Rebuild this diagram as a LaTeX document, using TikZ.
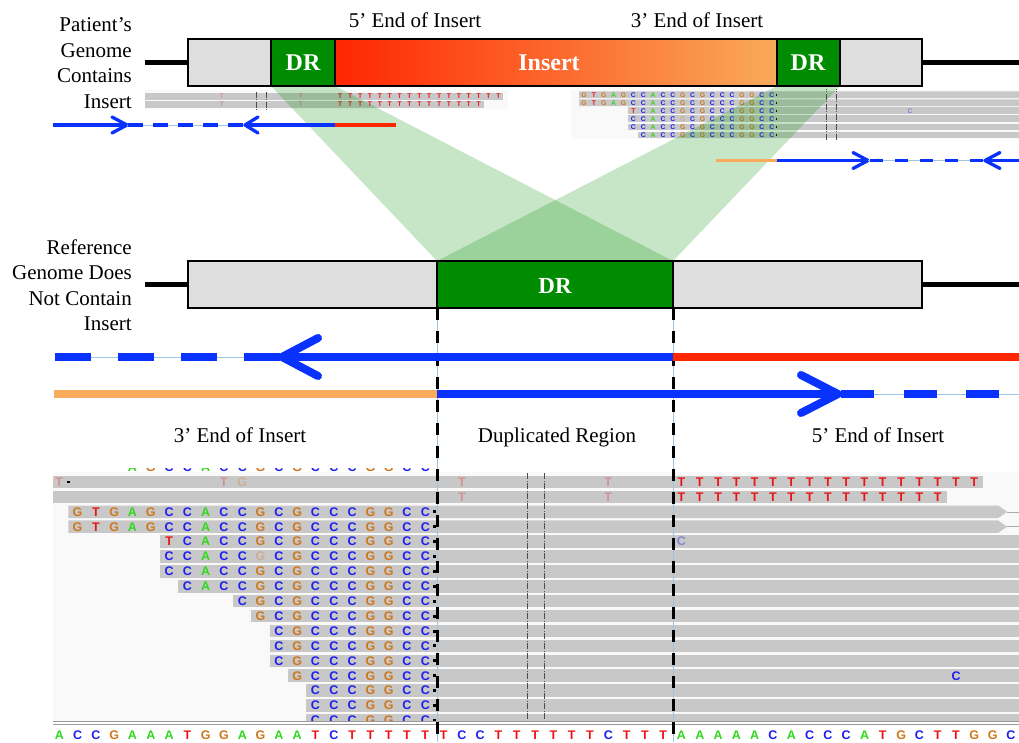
\documentclass[tikz,border=0pt]{standalone}
\usepackage{fontspec}
\setmainfont{Liberation Serif}
\setsansfont{Liberation Sans}
\usetikzlibrary{positioning}

\definecolor{drgreen}{RGB}{0,140,0}
\definecolor{boxgrey}{RGB}{222,222,222}
\definecolor{insred}{RGB}{255,38,0}
\definecolor{insorange}{RGB}{249,171,92}
\definecolor{readblue}{RGB}{10,50,255}
\definecolor{paleblue}{RGB}{160,195,225}
\definecolor{colA}{RGB}{50,215,30}
\definecolor{colC}{RGB}{30,30,240}
\definecolor{colG}{RGB}{205,120,30}
\definecolor{colT}{RGB}{235,20,20}
\definecolor{barfill}{RGB}{200,200,200}
\definecolor{panelbg}{RGB}{249,249,249}

% grey read, row #1, from base edge #2 to #3
\newcommand{\readbar}[3]{\fill[barfill] (#2,#1-0.42) rectangle (#3,#1+0.42);}
% read with its mate off to the right
\newcommand{\matebar}[3]{%
  \fill[barfill] (#2,#1-0.42) -- (#3-0.5,#1-0.42) -- (#3,#1)
    -- (#3-0.5,#1+0.42) -- (#2,#1+0.42) -- cycle;
  \draw[barfill!85!black, line width=0.6pt] (#3,#1) -- (70,#1);}
\newcommand{\readseq}[4]{%
  \foreach \b [count=\n from #3] in {#4}
    \node[text=col\b] (#1-#2-\n) at (\n,#2) {\b};}
\newcommand{\faintbase}[4]{\node[text=col#4, opacity=.3] (#1-#2-#3) at (#3,#2) {#4};}

% IGV reads, in base / row units
% rows 0-2: reads running into the insert
\newcommand{\readstop}[1]{%
  \readseq{#1}{0}{15}{C,C,G,G,C,C}
  \readbar{1}{-1}{50.5}
  \readbar{2}{-1}{48.5}
  \foreach \k in {1,2} {\faintbase{#1}{\k}{22}{T} \faintbase{#1}{\k}{30}{T}}
  \readseq{#1}{1}{34}{T,T,T,T,T,T,T,T,T,T,T,T,T,T,T,T,T}
  \readseq{#1}{2}{34}{T,T,T,T,T,T,T,T,T,T,T,T,T,T,T}}
% rows 3-8: soft clipped reads
\newcommand{\readsmid}[1]{%
  \foreach \k in {3,4} {\matebar{\k}{0.5}{51.8}
    \readseq{#1}{\k}{1}{G,T,G,A,G,C,C,A,C,C,G,C,G,C,C,C,G,G,C,C}}
  \readbar{5}{5.5}{70}
  \readseq{#1}{5}{6}{T,C,A,C,C,G,C,G,C,C,C,G,G,C,C}
  \node[text=colC, opacity=.4] (#1-5-34) at (34,5) {C};
  \readbar{6}{5.5}{70}
  \readseq{#1}{6}{6}{C,C,A,C,C} \faintbase{#1}{6}{11}{G}
  \readseq{#1}{6}{12}{C,G,C,C,C,G,G,C,C}
  \readbar{7}{5.5}{70}
  \readseq{#1}{7}{6}{C,C,A,C,C,G,C,G,C,C,C,G,G,C,C}
  \readbar{8}{6.5}{70}
  \readseq{#1}{8}{7}{C,A,C,C,G,C,G,C,C,C,G,G,C,C}
  \foreach \k in {3,...,8} \fill (20.42,\k-0.1) rectangle (20.58,\k+0.1);}
% rows 9-17
\newcommand{\readslow}[1]{%
  \readbar{9}{9.5}{70}
  \readseq{#1}{9}{10}{C,G,C,G,C,C,C,G,G,C,C}
  \readbar{10}{10.5}{70}
  \readseq{#1}{10}{11}{G,C,G,C,C,C,G,G,C,C}
  \foreach \k in {11,12,13} {\readbar{\k}{11.5}{70}
    \readseq{#1}{\k}{12}{C,G,C,C,C,G,G,C,C}}
  \readbar{14}{12.5}{70}
  \readseq{#1}{14}{13}{G,C,C,C,G,G,C,C}
  \readseq{#1}{14}{49}{C}
  \foreach \k in {15,16,17} {\readbar{\k}{13.5}{70}
    \readseq{#1}{\k}{14}{C,C,C,G,G,C,C}}
  \foreach \k in {9,...,17} \fill (20.42,\k-0.1) rectangle (20.58,\k+0.1);}
\newcommand{\centerlines}{%
  \draw[black!70, line width=0.7pt, dash pattern=on 6pt off 1.5pt on 1pt off 1.5pt]
    (25.55,0.4) -- (25.55,17.6) (26.5,0.4) -- (26.5,17.6);}

\begin{document}
\begin{tikzpicture}[x=1pt, y=-1pt,
    lbl/.style={font=\fontsize{21}{25}\selectfont, inner sep=0pt},
    boxlbl/.style={text=white, font=\fontsize{24}{24}\selectfont\bfseries},
    box/.style={draw=black, line width=1.4pt},
    chrom/.style={line width=4.5pt},
    toptrack/.style={line width=3.3pt, readblue},
    midtrack/.style={line width=8pt, readblue},
    headline/.style={line cap=round, line join=round},
    splitline/.style={line width=3pt, dash pattern=on 12pt off 11pt},
    smallbase/.style={every node/.style={font=\fontsize{6.8}{7}\selectfont\sffamily\bfseries, inner sep=0pt}},
    bigbase/.style={every node/.style={font=\fontsize{12.5}{13}\selectfont\sffamily\bfseries, inner sep=0pt}}]
\useasboundingbox (0,0) rectangle (1019,742);

% ---- patient genome ----
\node[lbl, anchor=base east] (pat1) at (132,31.5) {Patient’s};
\node[lbl, anchor=base east] (pat2) at (132,57) {Genome};
\node[lbl, anchor=base east] (pat3) at (132,82.5) {Contains};
\node[lbl, anchor=base east] (pat4) at (132,108) {Insert};
\node[lbl, anchor=base] (top5) at (415,27) {5’ End of Insert};
\node[lbl, anchor=base] (top3) at (697,27) {3’ End of Insert};

% small IGV views
\fill[panelbg] (145,90) rectangle (508,109);
\begin{scope}
  \clip (145,90) rectangle (508,109);
  \begin{scope}[shift={(4.4,88.45)}, xscale=9.88, yscale=8.05, smallbase]
    \readstop{tl}
    \centerlines
  \end{scope}
\end{scope}
\fill[panelbg] (570.7,89.5) rectangle (1019,139);
\begin{scope}
  \clip (570.7,89.5) rectangle (1019,139);
  \begin{scope}[shift={(574.1,70.55)}, xscale=9.88, yscale=8.05, smallbase]
    \readsmid{tr}
    \centerlines
  \end{scope}
\end{scope}

% ---- big IGV view ----
\fill[panelbg] (53,471.5) rectangle (1019,721);
\begin{scope}
  \clip (53,468) rectangle (1019,721);
  \begin{scope}[shift={(59.3,467.1)}, xscale=18.3, yscale=14.9, bigbase]
    \readseq{bt}{0}{4}{A,G,C,C,A,C,C,G,C,G,C}
    \readstop{bt}
    \fill (0.4,0.92) rectangle (0.56,1.08);
    \faintbase{bt}{1}{0}{T} \faintbase{bt}{1}{9}{T} \faintbase{bt}{1}{10}{G}
    \readsmid{bt}
    \readslow{bt}
    \centerlines
  \end{scope}
\end{scope}
\draw[black!40, line width=1pt] (53,721.5) -- (1019,721.5) (53,724.5) -- (1019,724.5);
\begin{scope}[shift={(59.3,467.1)}, xscale=18.3, yscale=14.9, bigbase]
  \foreach \b [count=\n from 0] in {A,C,C,G,A,A,A,T,G,G,A,G,A,A,T,C,T,T,T,T,T,
      T,C,C,T,T,T,T,T,T,C,T,T,T,
      A,A,A,A,A,C,A,C,C,C,A,T,G,C,T,T,G,G,C}
    \node[text=col\b] (ref-\n) at (\n,18) {\b};
\end{scope}

% duplicated region mapped down
\fill[drgreen, opacity=.22] (271,86) -- (335,86) -- (673,261) -- (437,261) -- cycle;
\fill[drgreen, opacity=.22] (777,86) -- (840,86) -- (673,261) -- (437,261) -- cycle;

% patient read pairs
\draw[toptrack] (53,125) -- (127,125);
\draw[toptrack, headline] (112,117) -- (127,125) -- (112,133);
\draw[paleblue, line width=1pt] (127,125) -- (245,125);
\draw[toptrack, dash pattern=on 15pt off 10pt] (128,125) -- (245,125);
\draw[toptrack, headline] (258,117) -- (245,125) -- (258,133);
\draw[toptrack] (245,125) -- (335,125);
\draw[toptrack, insred] (335,125) -- (396,125);

\draw[toptrack, insorange] (716,160.5) -- (777,160.5);
\draw[toptrack] (777,160.5) -- (868,160.5);
\draw[toptrack, headline] (853,152.5) -- (868,160.5) -- (853,168.5);
\draw[paleblue, line width=1pt] (868,160.5) -- (985,160.5);
\draw[toptrack, dash pattern=on 13pt off 12pt] (870,160.5) -- (985,160.5);
\draw[toptrack, headline] (1000,152.5) -- (985,160.5) -- (1000,168.5);
\draw[toptrack] (985,160.5) -- (1019,160.5);

% patient genome bar
\draw[chrom] (145,62.5) -- (188,62.5) (922,62.5) -- (1019,62.5);
\filldraw[box, fill=boxgrey] (188,39) rectangle (271,86);
\filldraw[box, fill=drgreen] (271,39) rectangle (335,86);
\shade[left color=insred, right color=insorange] (335,39) rectangle (777,86);
\draw[box] (335,39) rectangle (777,86);
\filldraw[box, fill=drgreen] (777,39) rectangle (840,86);
\filldraw[box, fill=boxgrey] (840,39) rectangle (922,86);
\node[boxlbl] (dr5) at (303,63) {DR};
\node[boxlbl] (ins) at (549,62.5) {Insert};
\node[boxlbl] (dr3) at (808,63) {DR};

% ---- reference genome ----
\node[lbl, anchor=base east] (ref1) at (132,254) {Reference};
\node[lbl, anchor=base east] (ref2) at (132,279.5) {Genome Does};
\node[lbl, anchor=base east] (ref3) at (132,305) {Not Contain};
\node[lbl, anchor=base east] (ref4) at (132,330.5) {Insert};

\draw[chrom] (145,284.5) -- (188,284.5) (922,284.5) -- (1019,284.5);
\filldraw[box, fill=boxgrey] (188,261) rectangle (437,308);
\filldraw[box, fill=drgreen] (437,261) rectangle (673,308);
\filldraw[box, fill=boxgrey] (673,261) rectangle (922,308);
\node[boxlbl, font=\fontsize{23}{23}\selectfont\bfseries] (drref) at (555,286) {DR};

% borders of the duplicated region
\draw[paleblue, line width=1pt] (437,308) -- (437,742) (673,308) -- (673,742);
\draw[splitline] (437,308) -- (437,742) (673,308) -- (673,742);

% reference read pairs
\draw[paleblue, line width=1pt] (55,357) -- (282,357);
\draw[midtrack, dash pattern=on 36pt off 27pt] (55,357) -- (282,357);
\draw[midtrack] (282,357) -- (673,357);
\draw[midtrack, insred] (673,357) -- (1019,357);
\draw[midtrack, headline] (318,338) -- (282,357) -- (318,376);

\draw[midtrack, insorange] (54,394) -- (437,394);
\draw[midtrack] (437,394) -- (838,394);
\draw[paleblue, line width=1pt] (838,394) -- (1019,394);
\draw[midtrack, dash pattern=on 33pt off 29.5pt] (841,394) -- (1019,394);
\draw[midtrack, headline] (801,375) -- (838,394) -- (801,413);

\node[lbl, anchor=base] (low3) at (240,442) {3’ End of Insert};
\node[lbl, anchor=base] (dup) at (557,442) {Duplicated Region};
\node[lbl, anchor=base] (low5) at (878,442) {5’ End of Insert};
\end{tikzpicture}
\end{document}
